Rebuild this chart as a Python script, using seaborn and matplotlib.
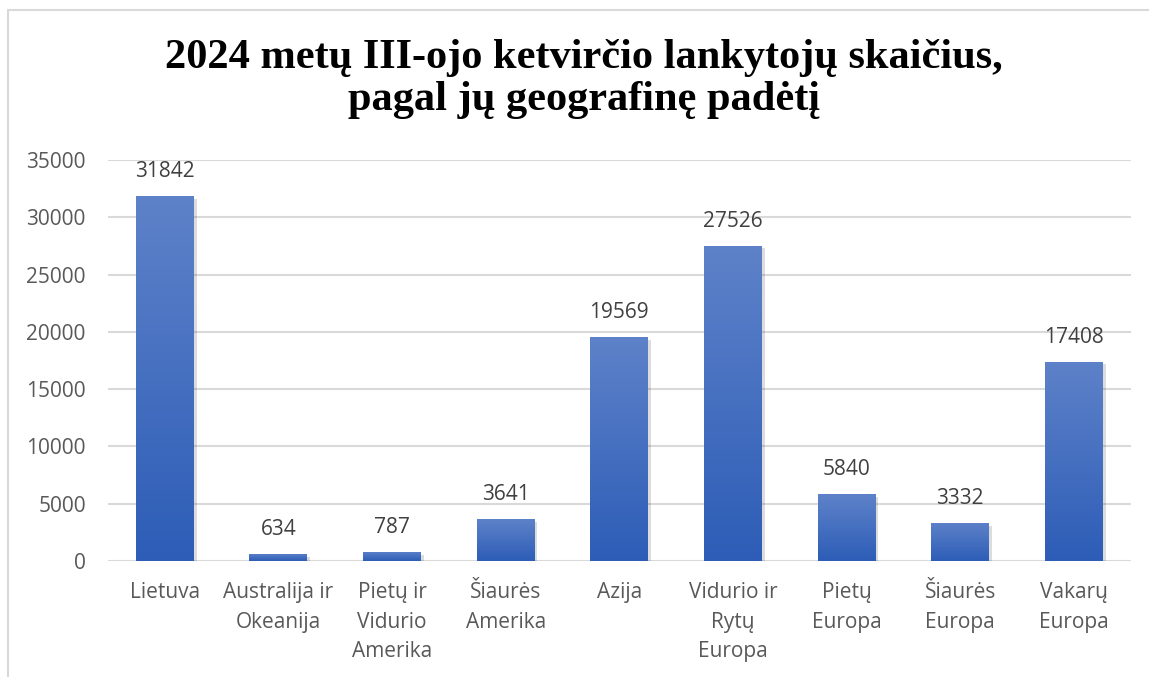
import numpy as np
import pandas as pd
import matplotlib
matplotlib.use("Agg")
import matplotlib.pyplot as plt
import seaborn as sns
from matplotlib.colors import LinearSegmentedColormap
from matplotlib import patheffects as pe
from matplotlib.patches import Rectangle

categories = ["Lietuva", "Australija ir\nOkeanija", "Pietų ir\nVidurio\nAmerika",
              "Šiaurės\nAmerika", "Azija", "Vidurio ir\nRytų\nEuropa",
              "Pietų\nEuropa", "Šiaurės\nEuropa", "Vakarų\nEuropa"]
values = [31842, 634, 787, 3641, 19569, 27526, 5840, 3332, 17408]
yticks = [0, 5000, 10000, 15000, 20000, 25000, 30000, 35000]
title = "2024 metų III-ojo ketvirčio lankytojų skaičius,\npagal jų geografinę padėtį"

sns.set_theme(style="white")
plt.rcParams['font.family'] = ['Open Sans', 'DejaVu Sans']

fig = plt.figure(figsize=(11.49, 6.77), dpi=100)
ax = fig.add_axes([0.094, 0.1713, 0.890, 0.5924])
df = pd.DataFrame({"region": categories, "visitors": values})
sns.barplot(data=df, x="region", y="visitors", color="#3A66C0", width=0.51, ax=ax,
            linewidth=0)

ax.set_xlim(-0.5, len(categories) - 0.5)
ax.set_ylim(0, 35000)
ax.set_yticks(yticks)
ax.set_yticklabels([str(t) for t in yticks])
ax.yaxis.grid(True, color="#D9D9D9", lw=1.5)
ax.set_axisbelow(True)
for s in ax.spines.values():
    s.set_visible(False)
ax.set_xlabel("")
ax.set_ylabel("")
ax.tick_params(axis="both", length=0, labelsize=15, colors="#595959")
ax.tick_params(axis="x", pad=15)
ax.tick_params(axis="y", pad=16)
for lab in ax.get_xticklabels():
    lab.set_linespacing(1.55)

cmap = LinearSegmentedColormap.from_list("g", ["#2D5DB7", "#5E82C9"])
grad = np.linspace(0, 1, 256).reshape(-1, 1)
for p in list(ax.patches):
    x0, y0, w, h = p.get_x(), p.get_y(), p.get_width(), p.get_height()
    p.set_path_effects([pe.SimplePatchShadow(offset=(2, -2), shadow_rgbFace="k", alpha=0.15), pe.Normal()])
    im = ax.imshow(grad, extent=[x0, x0 + w, y0, y0 + h], origin="lower", cmap=cmap,
                   aspect="auto", zorder=p.get_zorder() + 0.1)
    im.set_clip_path(p)
ax.set_xlim(-0.5, len(categories) - 0.5)
ax.set_ylim(0, 35000)

for i, v in enumerate(values):
    ax.annotate(f"{v}", (i, v), xytext=(0, 10), textcoords="offset points",
                ha="center", va="bottom", fontsize=15, color="#404040")

fig.text(0.508, 0.942, title, ha="center", va="top", fontsize=30.5, fontweight="bold",
         family="Liberation Serif", linespacing=1.13, color="black")

fig.add_artist(Rectangle((8 / 1149, -0.1), 2, 0.9852 + 0.1, transform=fig.transFigure,
                         fill=False, edgecolor="#D9D9D9", lw=1.5))

fig.savefig("out.png", dpi=100)
